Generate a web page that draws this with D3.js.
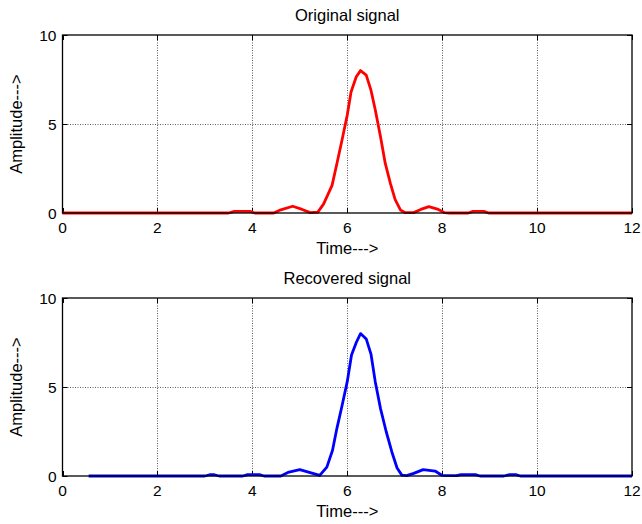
<!DOCTYPE html>
<html>
<head>
<meta charset="utf-8">
<script src="https://cdn.jsdelivr.net/npm/d3@7"></script>
<style>
  body { margin: 0; background: #fff; }
  text { font-family: "Liberation Sans", Arial, Helvetica, sans-serif; fill: #000; }
</style>
</head>
<body>
<svg id="chart" width="642" height="524"></svg>
<script>
// Axis ticks
const xTicks = [0, 2, 4, 6, 8, 10, 12];
const yTicks = [0, 5, 10];

// Original signal samples (time, amplitude)
const originalTime = [0, 3.5, 3.62, 3.95, 4.05, 4.45, 4.6, 4.85, 5.05, 5.22, 5.38, 5.5, 5.68, 5.78, 5.89, 6.0, 6.08, 6.19, 6.28, 6.4, 6.5, 6.59, 6.7, 6.8, 6.91, 7.01, 7.12, 7.22, 7.4, 7.55, 7.72, 7.9, 8.05, 8.15, 8.55, 8.65, 8.88, 8.98, 12];
const originalAmp  = [0, 0, 0.09, 0.09, 0, 0, 0.18, 0.38, 0.2, 0.02, 0.05, 0.5, 1.55, 2.75, 4.1, 5.5, 6.8, 7.65, 8.0, 7.75, 6.9, 5.8, 4.3, 2.8, 1.65, 0.75, 0.17, 0.02, 0.02, 0.2, 0.36, 0.22, 0.02, 0, 0, 0.09, 0.09, 0, 0];

// Recovered signal samples (time, amplitude)
const recoveredTime = [0.55, 3.0, 3.1, 3.2, 3.3, 3.8, 3.9, 4.15, 4.25, 4.6, 4.75, 5.0, 5.2, 5.42, 5.57, 5.69, 5.78, 5.89, 6.0, 6.09, 6.19, 6.28, 6.4, 6.5, 6.59, 6.7, 6.82, 6.94, 7.05, 7.15, 7.25, 7.4, 7.6, 7.85, 8.0, 8.3, 8.4, 8.7, 8.8, 9.3, 9.42, 9.55, 9.65, 12];
const recoveredAmp  = [0, 0, 0.07, 0.07, 0, 0, 0.08, 0.08, 0, 0, 0.2, 0.36, 0.2, 0.03, 0.5, 1.45, 2.65, 3.95, 5.3, 6.8, 7.5, 8.0, 7.7, 6.85, 5.3, 3.8, 2.5, 1.35, 0.45, 0.05, 0.02, 0.15, 0.36, 0.28, 0.03, 0.02, 0.08, 0.08, 0, 0, 0.08, 0.08, 0, 0];

const panels = [
  { title: "Original signal",  time: originalTime,  amp: originalAmp,  color: "#ff0000", top: 35 },
  { title: "Recovered signal", time: recoveredTime, amp: recoveredAmp, color: "#0000ff", top: 298 }
];

const svg = d3.select("#chart");
const left = 62.5, right = 632, plotH = 178;
const tickLen = 5;

const x = d3.scaleLinear().domain([0, 12]).range([left, right]);

panels.forEach(p => {
  const bottom = p.top + plotH;
  const y = d3.scaleLinear().domain([0, 10]).range([bottom, p.top]);
  const g = svg.append("g");

  // dotted grid
  g.append("g").selectAll("line").data(xTicks.slice(1, -1)).join("line")
    .attr("x1", d => Math.round(x(d)) + 0.5).attr("x2", d => Math.round(x(d)) + 0.5)
    .attr("y1", p.top).attr("y2", bottom)
    .attr("stroke", "#333").attr("stroke-width", 0.8).attr("stroke-dasharray", "1,1.5");
  g.append("g").selectAll("line").data(yTicks.slice(1, -1)).join("line")
    .attr("x1", left).attr("x2", right)
    .attr("y1", d => Math.round(y(d)) + 0.5).attr("y2", d => Math.round(y(d)) + 0.5)
    .attr("stroke", "#333").attr("stroke-width", 0.8).attr("stroke-dasharray", "1,1.5");

  // inward ticks on all four sides
  const tk = g.append("g").attr("stroke", "#000").attr("stroke-width", 1);
  xTicks.forEach(t => {
    const xx = Math.round(x(t)) + 0.5;
    tk.append("line").attr("x1", xx).attr("x2", xx).attr("y1", bottom).attr("y2", bottom - tickLen);
    tk.append("line").attr("x1", xx).attr("x2", xx).attr("y1", p.top).attr("y2", p.top + tickLen);
  });
  yTicks.forEach(t => {
    const yy = Math.round(y(t)) + 0.5;
    tk.append("line").attr("x1", left).attr("x2", left + tickLen).attr("y1", yy).attr("y2", yy);
    tk.append("line").attr("x1", right).attr("x2", right - tickLen).attr("y1", yy).attr("y2", yy);
  });

  // signal trace
  const pts = p.time.map((t, i) => [t, p.amp[i]]);
  g.append("path").datum(pts)
    .attr("fill", "none").attr("stroke", p.color).attr("stroke-width", 2.8)
    .attr("stroke-linejoin", "round")
    .attr("d", d3.line().x(d => x(d[0])).y(d => y(d[1])));

  // axes box
  g.append("rect").attr("x", left).attr("y", p.top).attr("width", right - left).attr("height", plotH)
    .attr("fill", "none").attr("stroke", "#000").attr("stroke-width", 1.3);

  // tick labels
  g.append("g").selectAll("text").data(xTicks).join("text")
    .attr("x", d => x(d)).attr("y", bottom + 20).attr("text-anchor", "middle")
    .attr("font-size", 15.5).text(d => d);
  g.append("g").selectAll("text").data(yTicks).join("text")
    .attr("x", left - 6).attr("y", d => y(d)).attr("dy", "0.36em").attr("text-anchor", "end")
    .attr("font-size", 15.5).text(d => d);

  // title and axis labels
  g.append("text").attr("x", (left + right) / 2).attr("y", p.top - 14)
    .attr("text-anchor", "middle").attr("font-size", 16.5).text(p.title);
  g.append("text").attr("x", (left + right) / 2).attr("y", bottom + 41)
    .attr("text-anchor", "middle").attr("font-size", 16.5).text("Time--->");
  g.append("text").attr("transform", `translate(22,${(p.top + bottom) / 2}) rotate(-90)`)
    .attr("text-anchor", "middle").attr("font-size", 16.5).text("Amplitude--->");
});
</script>
</body>
</html>
